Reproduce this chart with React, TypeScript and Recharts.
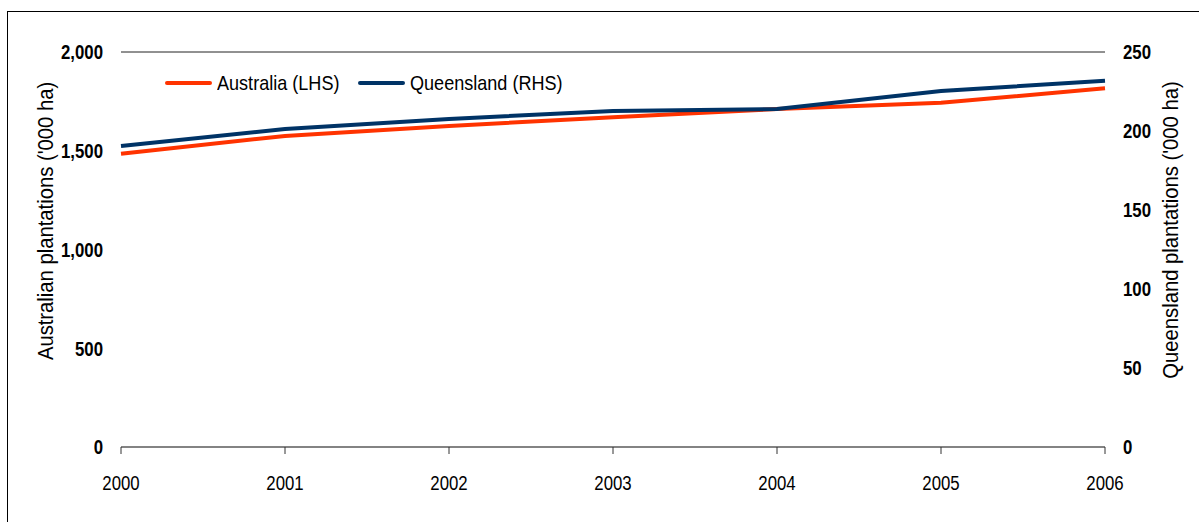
import { LineChart, Line, XAxis, YAxis, CartesianGrid, Legend } from "recharts";

const years = ["2000", "2001", "2002", "2003", "2004", "2005", "2006"];
const australia = [1485, 1575, 1625, 1670, 1711, 1743, 1816];
const queensland = [190.5, 201.3, 207.6, 212.7, 213.9, 225.3, 231.8];
const leftTicks = [0, 500, 1000, 1500, 2000];
const rightTicks = [0, 50, 100, 150, 200, 250];

const FONT = "'Liberation Sans', Arial, sans-serif";
const RED = "#FF3300";
const NAVY = "#003366";
const SQUEEZE = 0.8;

const data = years.map((year, i) => ({
  year,
  australia: australia[i],
  queensland: queensland[i],
}));

// Arial Narrow is not around, so squeeze Liberation Sans horizontally
function NarrowTick({ x, y, payload, anchor, dy, bold, fmt }: any) {
  const label = fmt ? fmt(payload.value) : payload.value;
  return (
    <text
      transform={`translate(${x},${y}) scale(${SQUEEZE},1)`}
      textAnchor={anchor}
      dy={dy}
      fontSize={21}
      fontFamily={FONT}
      fontWeight={bold ? "bold" : "normal"}
      fill="#000"
    >
      {label}
    </text>
  );
}

function AxisTitle({ x, cy, value }: any) {
  return (
    <text
      transform={`translate(${x},${cy}) rotate(-90) scale(0.92,1)`}
      textAnchor="middle"
      dominantBaseline="central"
      fontSize={22}
      fontFamily={FONT}
      fill="#000"
    >
      {value}
    </text>
  );
}

function LegendContent() {
  const items = [
    { label: "Australia (LHS)", color: RED, at: 0 },
    { label: "Queensland (RHS)", color: NAVY, at: 193 },
  ];
  return (
    <div style={{ position: "relative", width: 420, height: 24, fontFamily: FONT, fontSize: 21, lineHeight: "24px" }}>
      {items.map((it) => (
        <div key={it.label}>
          <span
            style={{
              position: "absolute",
              left: it.at,
              top: 10,
              width: 47,
              height: 4,
              borderRadius: 2,
              background: it.color,
            }}
          />
          <span
            style={{
              position: "absolute",
              left: it.at + 52,
              top: 0,
              whiteSpace: "nowrap",
              color: "#000",
              transform: "scaleX(0.86)",
              transformOrigin: "left center",
            }}
          >
            {it.label}
          </span>
        </div>
      ))}
    </div>
  );
}

export default function App() {
  return (
    <div
      style={{
        position: "absolute",
        left: 7,
        top: 11,
        width: 1191,
        height: 510,
        borderLeft: "1px solid #000",
        borderTop: "1px solid #000",
        background: "#fff",
        overflow: "hidden",
      }}
    >
      <LineChart
        width={1191}
        height={508}
        data={data}
        margin={{ top: 40, right: 0, bottom: 13, left: 0 }}
      >
        <CartesianGrid vertical={false} stroke="#222" strokeWidth={1} />
        <XAxis
          dataKey="year"
          height={60}
          tickSize={7}
          tickMargin={21}
          tick={<NarrowTick anchor="middle" dy="0.71em" />}
          axisLine={{ stroke: "#7f7f7f", strokeWidth: 1.5 }}
          tickLine={{ stroke: "#333" }}
          interval={0}
        />
        <YAxis
          yAxisId="left"
          width={113}
          domain={[0, 2000]}
          ticks={leftTicks}
          axisLine={false}
          tickLine={false}
          tickSize={0}
          tickMargin={18}
          tick={<NarrowTick anchor="end" dy="0.35em" bold fmt={(v: number) => v.toLocaleString("en-US")} />}
          label={() => <AxisTitle x={37} cy={209} value="Australian plantations ('000 ha)" />}
        />
        <YAxis
          yAxisId="right"
          orientation="right"
          width={94}
          domain={[0, 250]}
          ticks={rightTicks}
          axisLine={false}
          tickLine={false}
          tickSize={0}
          tickMargin={18}
          tick={<NarrowTick anchor="start" dy="0.35em" bold />}
          label={() => <AxisTitle x={1162} cy={218} value="Queensland plantations ('000 ha)" />}
        />
        <Legend
          verticalAlign="middle"
          content={<LegendContent />}
          wrapperStyle={{ position: "absolute", top: 59, left: 157, width: "auto" }}
        />
        <Line
          yAxisId="left"
          type="linear"
          dataKey="australia"
          stroke={RED}
          strokeWidth={4}
          dot={false}
          isAnimationActive={false}
        />
        <Line
          yAxisId="right"
          type="linear"
          dataKey="queensland"
          stroke={NAVY}
          strokeWidth={4}
          dot={false}
          isAnimationActive={false}
        />
      </LineChart>
    </div>
  );
}
